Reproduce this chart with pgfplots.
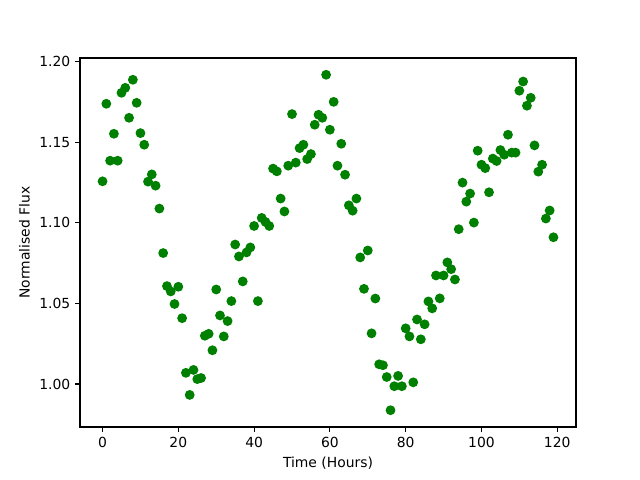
\documentclass[border=0pt]{standalone}
\usepackage{pgfplots}
\pgfplotsset{compat=1.18}
\usepackage{fontspec}
\setmainfont{DejaVu Sans}
\begin{document}
\begin{tikzpicture}
\useasboundingbox (-57.6pt,-38.16pt) rectangle (403.2pt,307.44pt);
\begin{axis}[
  at={(0,0)}, anchor=south west,
  scale only axis, width=357.12pt, height=265.68pt,
  xmin=-5.95, xmax=124.95, ymin=0.9733, ymax=1.2022,
  axis line style={line width=0.8pt},
  tick align=outside, tick pos=left,
  major tick length=3.5pt,
  every tick/.style={black, line width=0.8pt},
  xtick={0,20,40,60,80,100,120},
  ytick={1.00,1.05,1.10,1.15,1.20},
  yticklabel style={/pgf/number format/.cd, fixed, fixed zerofill, precision=2},
  /pgf/number format/assume math mode=true,
  ticklabel style={font=\fontsize{10}{12}\selectfont},
  label style={font=\fontsize{10}{12}\selectfont},
  xlabel={Time (Hours)}, ylabel={Normalised Flux},
  scaled y ticks=false,
]
\addplot[only marks, mark=*, mark size=3pt, color={rgb,255:red,0;green,128;blue,0}, mark options={line width=1pt}] table {
x y
0 1.1257
1 1.1738
2 1.1385
3 1.1552
4 1.1385
5 1.1806
6 1.1837
7 1.1651
8 1.1887
9 1.1744
10 1.1556
11 1.1484
12 1.1255
13 1.1300
14 1.1230
15 1.1088
16 1.0812
17 1.0607
18 1.0574
19 1.0496
20 1.0603
21 1.0408
22 1.0069
23 0.9932
24 1.0087
25 1.0030
26 1.0037
27 1.0299
28 1.0311
29 1.0209
30 1.0586
31 1.0425
32 1.0295
33 1.0390
34 1.0514
35 1.0865
36 1.0791
37 1.0636
38 1.0816
39 1.0847
40 1.0980
41 1.0514
42 1.1030
43 1.1005
44 1.0980
45 1.1336
46 1.1319
47 1.1150
48 1.1070
49 1.1354
50 1.1674
51 1.1373
52 1.1463
53 1.1484
54 1.1395
55 1.1426
56 1.1608
57 1.1670
58 1.1651
59 1.1918
60 1.1577
61 1.1750
62 1.1354
63 1.1490
64 1.1298
65 1.1108
66 1.1075
67 1.1150
68 1.0785
69 1.0590
70 1.0828
71 1.0314
72 1.0530
73 1.0122
74 1.0116
75 1.0043
76 0.9837
77 0.9986
78 1.0050
79 0.9986
80 1.0345
81 1.0295
82 1.0010
83 1.0400
84 1.0277
85 1.0370
86 1.0512
87 1.0469
88 1.0673
89 1.0531
90 1.0673
91 1.0754
92 1.0712
93 1.0648
94 1.0960
95 1.1249
96 1.1131
97 1.1181
98 1.1001
99 1.1447
100 1.1360
101 1.1339
102 1.1189
103 1.1398
104 1.1383
105 1.1451
106 1.1422
107 1.1546
108 1.1435
109 1.1435
110 1.1819
111 1.1876
112 1.1726
113 1.1775
114 1.1480
115 1.1317
116 1.1360
117 1.1026
118 1.1076
119 1.0910
};
\end{axis}
\end{tikzpicture}
\end{document}
